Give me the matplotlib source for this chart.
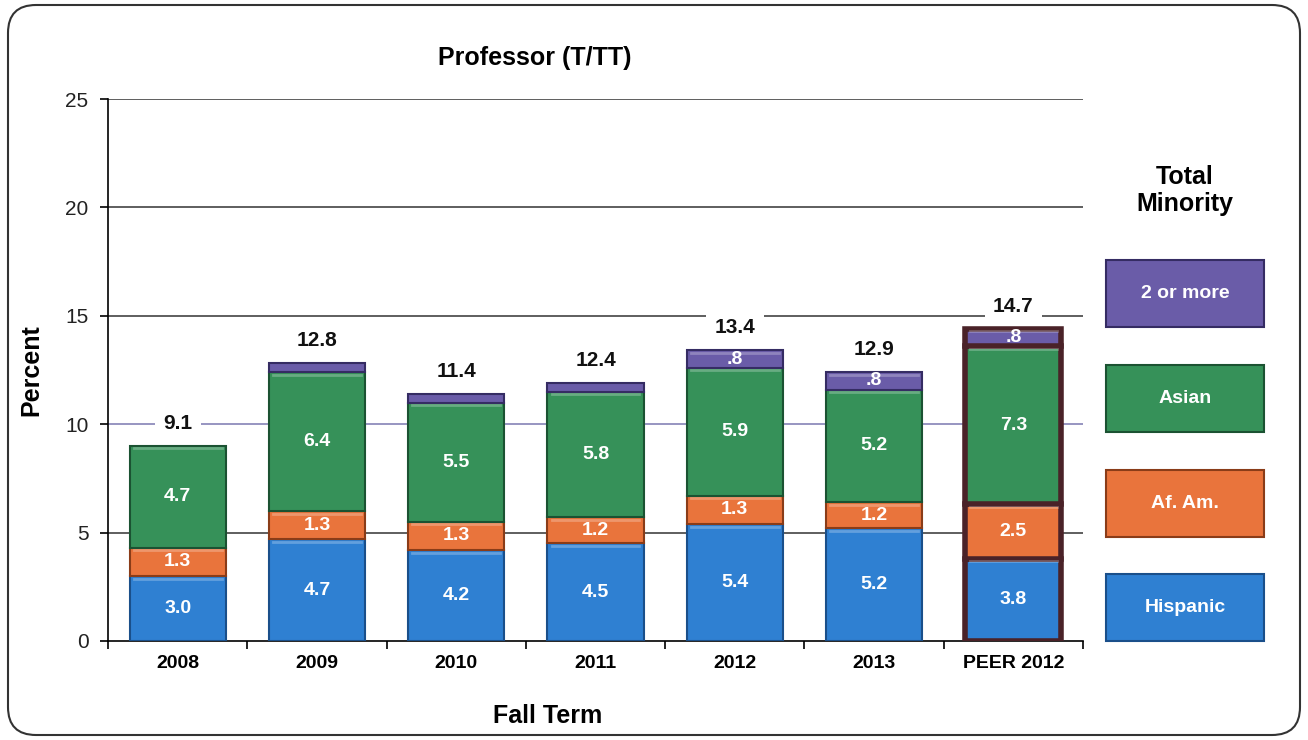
import numpy as np
import matplotlib
matplotlib.use('Agg')
from matplotlib import pyplot as plt
from matplotlib.patches import Rectangle, FancyBboxPatch

plt.rcParams['font.family'] = ['Liberation Sans', 'DejaVu Sans']

# data
terms = ['2008', '2009', '2010', '2011', '2012', '2013', 'PEER 2012']
hispanic = [3.0, 4.7, 4.2, 4.5, 5.4, 5.2, 3.8]
af_am = [1.3, 1.3, 1.3, 1.2, 1.3, 1.2, 2.5]
asian = [4.7, 6.4, 5.5, 5.8, 5.9, 5.2, 7.3]
two_more = [0.0, 0.4, 0.4, 0.4, 0.8, 0.8, 0.8]
totals = [9.1, 12.8, 11.4, 12.4, 13.4, 12.9, 14.7]
two_more_labels = ['', '', '', '', '.8', '.8', '.8']

series = [('Hispanic', hispanic, '#2f80d2', '#1a4f8a'),
          ('Af. Am.', af_am, '#e9743c', '#8a3c18'),
          ('Asian', asian, '#369159', '#1b5232'),
          ('2 or more', two_more, '#6a5ca8', '#352c63')]

fig = plt.figure(figsize=(13.08, 7.40), dpi=100)
ax = fig.add_axes([0.0826, 0.1338, 0.7454, 0.7324])

x = np.arange(len(terms)) + 0.5
w = 0.69
bottom = np.zeros(len(terms))
for name, vals, col, dark in series:
    vals = np.array(vals)
    for i in range(len(terms)):
        if vals[i] <= 0:
            continue
        peer = terms[i].startswith('PEER')
        ax.bar(x[i], vals[i], w, bottom=bottom[i], color=col,
               edgecolor='#4a2228' if peer else dark,
               linewidth=4 if peer else 1.5, zorder=3)
        # light bevel line along the top of each segment
        if vals[i] > 0.6:
            ax.plot([x[i] - w / 2 + 0.03, x[i] + w / 2 - 0.03],
                    [bottom[i] + vals[i] - 0.12] * 2,
                    color='white', alpha=0.25, lw=2, zorder=4)
    bottom += vals

# segment value labels
b = np.zeros(len(terms))
for name, vals, col, dark in series:
    for i, v in enumerate(vals):
        if name == '2 or more':
            lab = two_more_labels[i]
        else:
            lab = '%.1f' % v
        if lab:
            ax.text(x[i], b[i] + v / 2, lab, ha='center', va='center',
                    color='white', fontsize=14, fontweight='bold', zorder=5)
    b += np.array(vals)

# totals above bars
for i, t in enumerate(totals):
    ax.text(x[i], bottom[i] + 1.05, '%.1f' % t, ha='center', va='center',
            fontsize=15, fontweight='bold', color='#111111', zorder=5,
            bbox=dict(facecolor='white', edgecolor='none', pad=6))

for yv in [5, 10, 15, 20, 25]:
    c = '#7b78b0' if yv == 10 else '#333333'
    ax.axhline(yv, color=c, lw=1.1, zorder=1)

ax.set_xlim(0, 7)
ax.set_ylim(0, 25)
ax.set_yticks([0, 5, 10, 15, 20, 25])
ax.set_xticks(np.arange(8), minor=False)
ax.set_xticklabels([])
ax.set_xticks(x, minor=True)
ax.set_xticklabels(terms, minor=True, fontsize=14, fontweight='bold')
ax.tick_params(axis='x', which='minor', length=0, pad=10)
ax.tick_params(axis='x', which='major', length=6, direction='out', width=1.2)
ax.tick_params(axis='y', length=6, direction='out', labelsize=15, width=1.2,
               labelcolor='#222222', pad=8)
for s in ['top', 'right']:
    ax.spines[s].set_visible(False)
ax.spines['left'].set_linewidth(1.2)
ax.spines['bottom'].set_linewidth(1.2)

ax.set_ylabel('Percent', fontsize=18, fontweight='bold', labelpad=16)
fig.text(0.419, 0.033, 'Fall Term', ha='center', va='center',
         fontsize=18, fontweight='bold')
fig.text(0.409, 0.921, 'Professor (T/TT)', ha='center', va='center',
         fontsize=18, fontweight='bold')

# legend on the right
fig.text(0.906, 0.743, 'Total\nMinority', ha='center', va='center',
         fontsize=18, fontweight='bold', linespacing=1.15)
leg_bottoms = [0.1338, 0.2743, 0.4162, 0.558]
for (name, vals, col, dark), yb in zip(series, leg_bottoms):
    fig.add_artist(Rectangle((0.8456, yb), 0.1208, 0.0905, transform=fig.transFigure,
                             facecolor=col, edgecolor=dark, linewidth=1.5))
    fig.text(0.906, yb + 0.0452, name, ha='center', va='center', color='white',
             fontsize=14, fontweight='bold')

# rounded frame around the figure
fig.patches.append(FancyBboxPatch((8, 5), 1292, 730,
                                  boxstyle='round,pad=0,rounding_size=28',
                                  transform=None, facecolor='none',
                                  edgecolor='#333333', linewidth=1.5))

fig.savefig('out.png', dpi=100)
